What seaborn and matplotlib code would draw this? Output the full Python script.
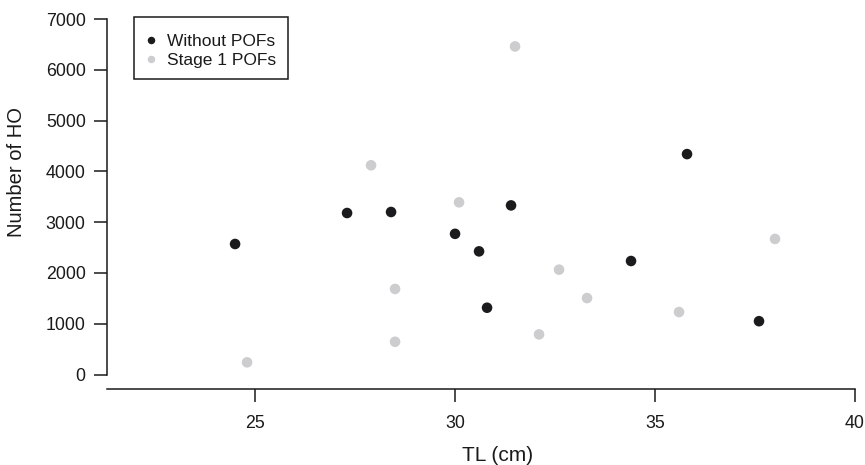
import matplotlib
matplotlib.use("Agg")
import matplotlib.pyplot as plt
from matplotlib.patches import Rectangle
import seaborn as sns
import pandas as pd

# Total length (cm) and number of hydrated oocytes per female
tl_without = [24.5, 27.3, 28.4, 31.4, 30.0, 30.6, 30.8, 34.4, 35.8, 37.6]
ho_without = [2570, 3180, 3200, 3330, 2770, 2425, 1315, 2235, 4340, 1050]
tl_stage1 = [24.8, 31.5, 27.9, 30.1, 28.5, 28.5, 32.6, 33.3, 32.1, 35.6, 38.0]
ho_stage1 = [240, 6460, 4120, 3390, 1685, 645, 2065, 1505, 790, 1230, 2670]

groups = ["Without POFs", "Stage 1 POFs"]
colors = ["#1b1b1d", "#cdcdcf"]
x_ticks = [25, 30, 35, 40]
y_ticks = [0, 1000, 2000, 3000, 4000, 5000, 6000, 7000]

df = pd.DataFrame({
    "TL": tl_without + tl_stage1,
    "HO": ho_without + ho_stage1,
    "group": [groups[0]] * len(tl_without) + [groups[1]] * len(tl_stage1),
})

sns.set_style("ticks")
plt.rcParams["font.family"] = ["Liberation Sans", "DejaVu Sans"]

W, H = 865, 465
fig = plt.figure(figsize=(W / 100, H / 100), dpi=100)
ax = fig.add_axes([106.7 / W, 1 - 389.3 / H, (855 - 106.7) / W, (389.3 - 19) / H])

sns.scatterplot(data=df, x="TL", y="HO", hue="group", hue_order=groups,
                palette=dict(zip(groups, colors)), s=58, linewidth=0,
                edgecolor="none", ax=ax, legend=False, zorder=3)

ax.set_xlim(21.29, 40.0)
ax.set_ylim(-291, 7000)
ax.set_xticks(x_ticks)
ax.set_yticks(y_ticks)
ax.set_xlabel("")
ax.set_ylabel("")

for side in ["top", "right"]:
    ax.spines[side].set_visible(False)
ax.spines["left"].set_bounds(0, 7000)
for side in ["left", "bottom"]:
    ax.spines[side].set_linewidth(1.1)
    ax.spines[side].set_color("#1a1a1a")

ax.tick_params(axis="both", length=9.6, width=1.1, color="#1a1a1a",
               labelsize=12.8, labelcolor="#1a1a1a")
ax.tick_params(axis="y", pad=5.5)
ax.tick_params(axis="x", pad=9)
for t in ax.get_xticklabels() + ax.get_yticklabels():
    t.set_clip_on(False)

fig.text(498 / W, 1 - 455 / H, "TL (cm)", ha="center", va="center",
         fontsize=15, color="#1a1a1a")
fig.text(17 / W, 1 - 172 / H, "Number of HO", ha="center", va="center",
         rotation=90, fontsize=14.5, color="#1a1a1a")

# Legend: entries without frame, boxed by a separate rectangle
handles = [plt.Line2D([], [], marker="o", linestyle="none", markersize=5.4,
                      markerfacecolor=c, markeredgecolor="none") for c in colors]
leg = ax.legend(handles, groups, loc="center left",
                bbox_to_anchor=(145.8 / W, 1 - 51.2 / H), bbox_transform=fig.transFigure,
                fontsize=12.5, frameon=False, borderpad=0,
                handlelength=0.6, handletextpad=0.6, labelspacing=0.2,
                borderaxespad=0)
for t in leg.get_texts():
    t.set_color("#1a1a1a")
fig.patches.append(Rectangle((134 / W, 1 - 79 / H), (288 - 134) / W, (79 - 17.3) / H,
                             transform=fig.transFigure, fill=False,
                             edgecolor="#1a1a1a", linewidth=1.1, zorder=5))

fig.savefig("out.png", dpi=100)
